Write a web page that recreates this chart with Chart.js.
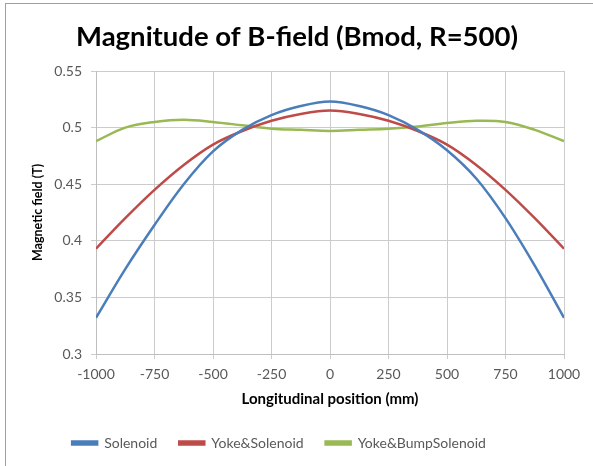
<!DOCTYPE html>
<html><head><meta charset="utf-8">
<script src="https://cdn.jsdelivr.net/npm/chart.js@4/dist/chart.umd.min.js"></script>
<style>
html,body{margin:0;padding:0;background:#fff;}
#wrap{position:absolute;left:0;top:0;width:593px;height:466px;overflow:hidden;}
#frame{position:absolute;left:5px;top:3px;width:600px;height:480px;border-left:1px solid #a0a0a0;border-top:1px solid #a0a0a0;}
canvas{position:absolute;left:0;top:0;}
</style></head>
<body><div id="wrap"><div id="frame"></div><canvas id="c" width="593" height="466"></canvas></div>
<script>
const positions = [-1000,-875,-750,-625,-500,-375,-250,-125,0,125,250,375,500,625,750,875,1000];
const solenoid = [0.332,0.375,0.414,0.450,0.479,0.498,0.511,0.519,0.523,0.519,0.511,0.498,0.480,0.455,0.420,0.378,0.332];
const yokeSolenoid = [0.393,0.420,0.445,0.467,0.485,0.497,0.506,0.512,0.515,0.512,0.506,0.497,0.485,0.467,0.445,0.420,0.393];
const yokeBump = [0.488,0.500,0.505,0.507,0.505,0.502,0.499,0.498,0.497,0.498,0.499,0.501,0.504,0.506,0.505,0.498,0.488];
const seriesNames = ['Solenoid','Yoke&Solenoid','Yoke&BumpSolenoid'];
const colors = ['#4A7EBB','#BE4B48','#98B954'];
const FONT = 'Lato, "Open Sans", sans-serif';
const pts = arr => positions.map((x,i)=>({x:x,y:arr[i]}));
const data = [solenoid,yokeSolenoid,yokeBump];
const legendShift = {id:'legendShift', afterLayout(chart){const l=chart.legend; if(!l) return; l.left-=18; l.right-=18; l.top+=6; l.bottom+=6;}};
new Chart(document.getElementById('c'),{
  type:'line',
  data:{datasets:data.map((d,i)=>({label:seriesNames[i],data:pts(d),borderColor:colors[i],backgroundColor:colors[i],borderWidth:2.5,pointRadius:0,tension:0.35,fill:false}))},
  options:{
    responsive:false,animation:false,
    layout:{padding:{left:30,right:29,top:12,bottom:12}},
    plugins:{
      title:{display:true,text:'Magnitude of B-field (Bmod, R=500)',color:'#000',font:{family:FONT,size:27.5,weight:'bold'},padding:{top:9,bottom:17}},
      legend:{position:'bottom',labels:{color:'#595959',font:{family:FONT,size:14},boxWidth:25,boxHeight:3,padding:22}},
      tooltip:{enabled:false}
    },
    scales:{
      x:{type:'linear',min:-1000,max:1000,
        ticks:{stepSize:250,color:'#595959',font:{family:FONT,size:14},callback:v=>String(v),maxRotation:0,padding:7},
        grid:{color:'#cccccc',tickLength:5,tickColor:'#cccccc'},border:{color:'#bfbfbf'},
        title:{display:true,text:'Longitudinal position (mm)',color:'#000',font:{family:FONT,size:15,weight:'bold'},padding:{top:2,bottom:0}},
        afterFit:s=>{s.height=54;}
      },
      y:{min:0.3,max:0.55,
        ticks:{stepSize:0.05,color:'#595959',font:{family:FONT,size:14},padding:9,callback:v=>String(+v.toFixed(2))},
        grid:{color:'#cccccc',tickLength:5,tickColor:'#cccccc'},border:{color:'#bfbfbf'},
        title:{display:true,text:'Magnetic field (T)',color:'#000',font:{family:FONT,size:12.5,weight:'bold'},padding:{top:0,bottom:0}},
        afterFit:s=>{s.width=66;}
      }
    }
  },
  plugins:[legendShift]
});
</script></body></html>
